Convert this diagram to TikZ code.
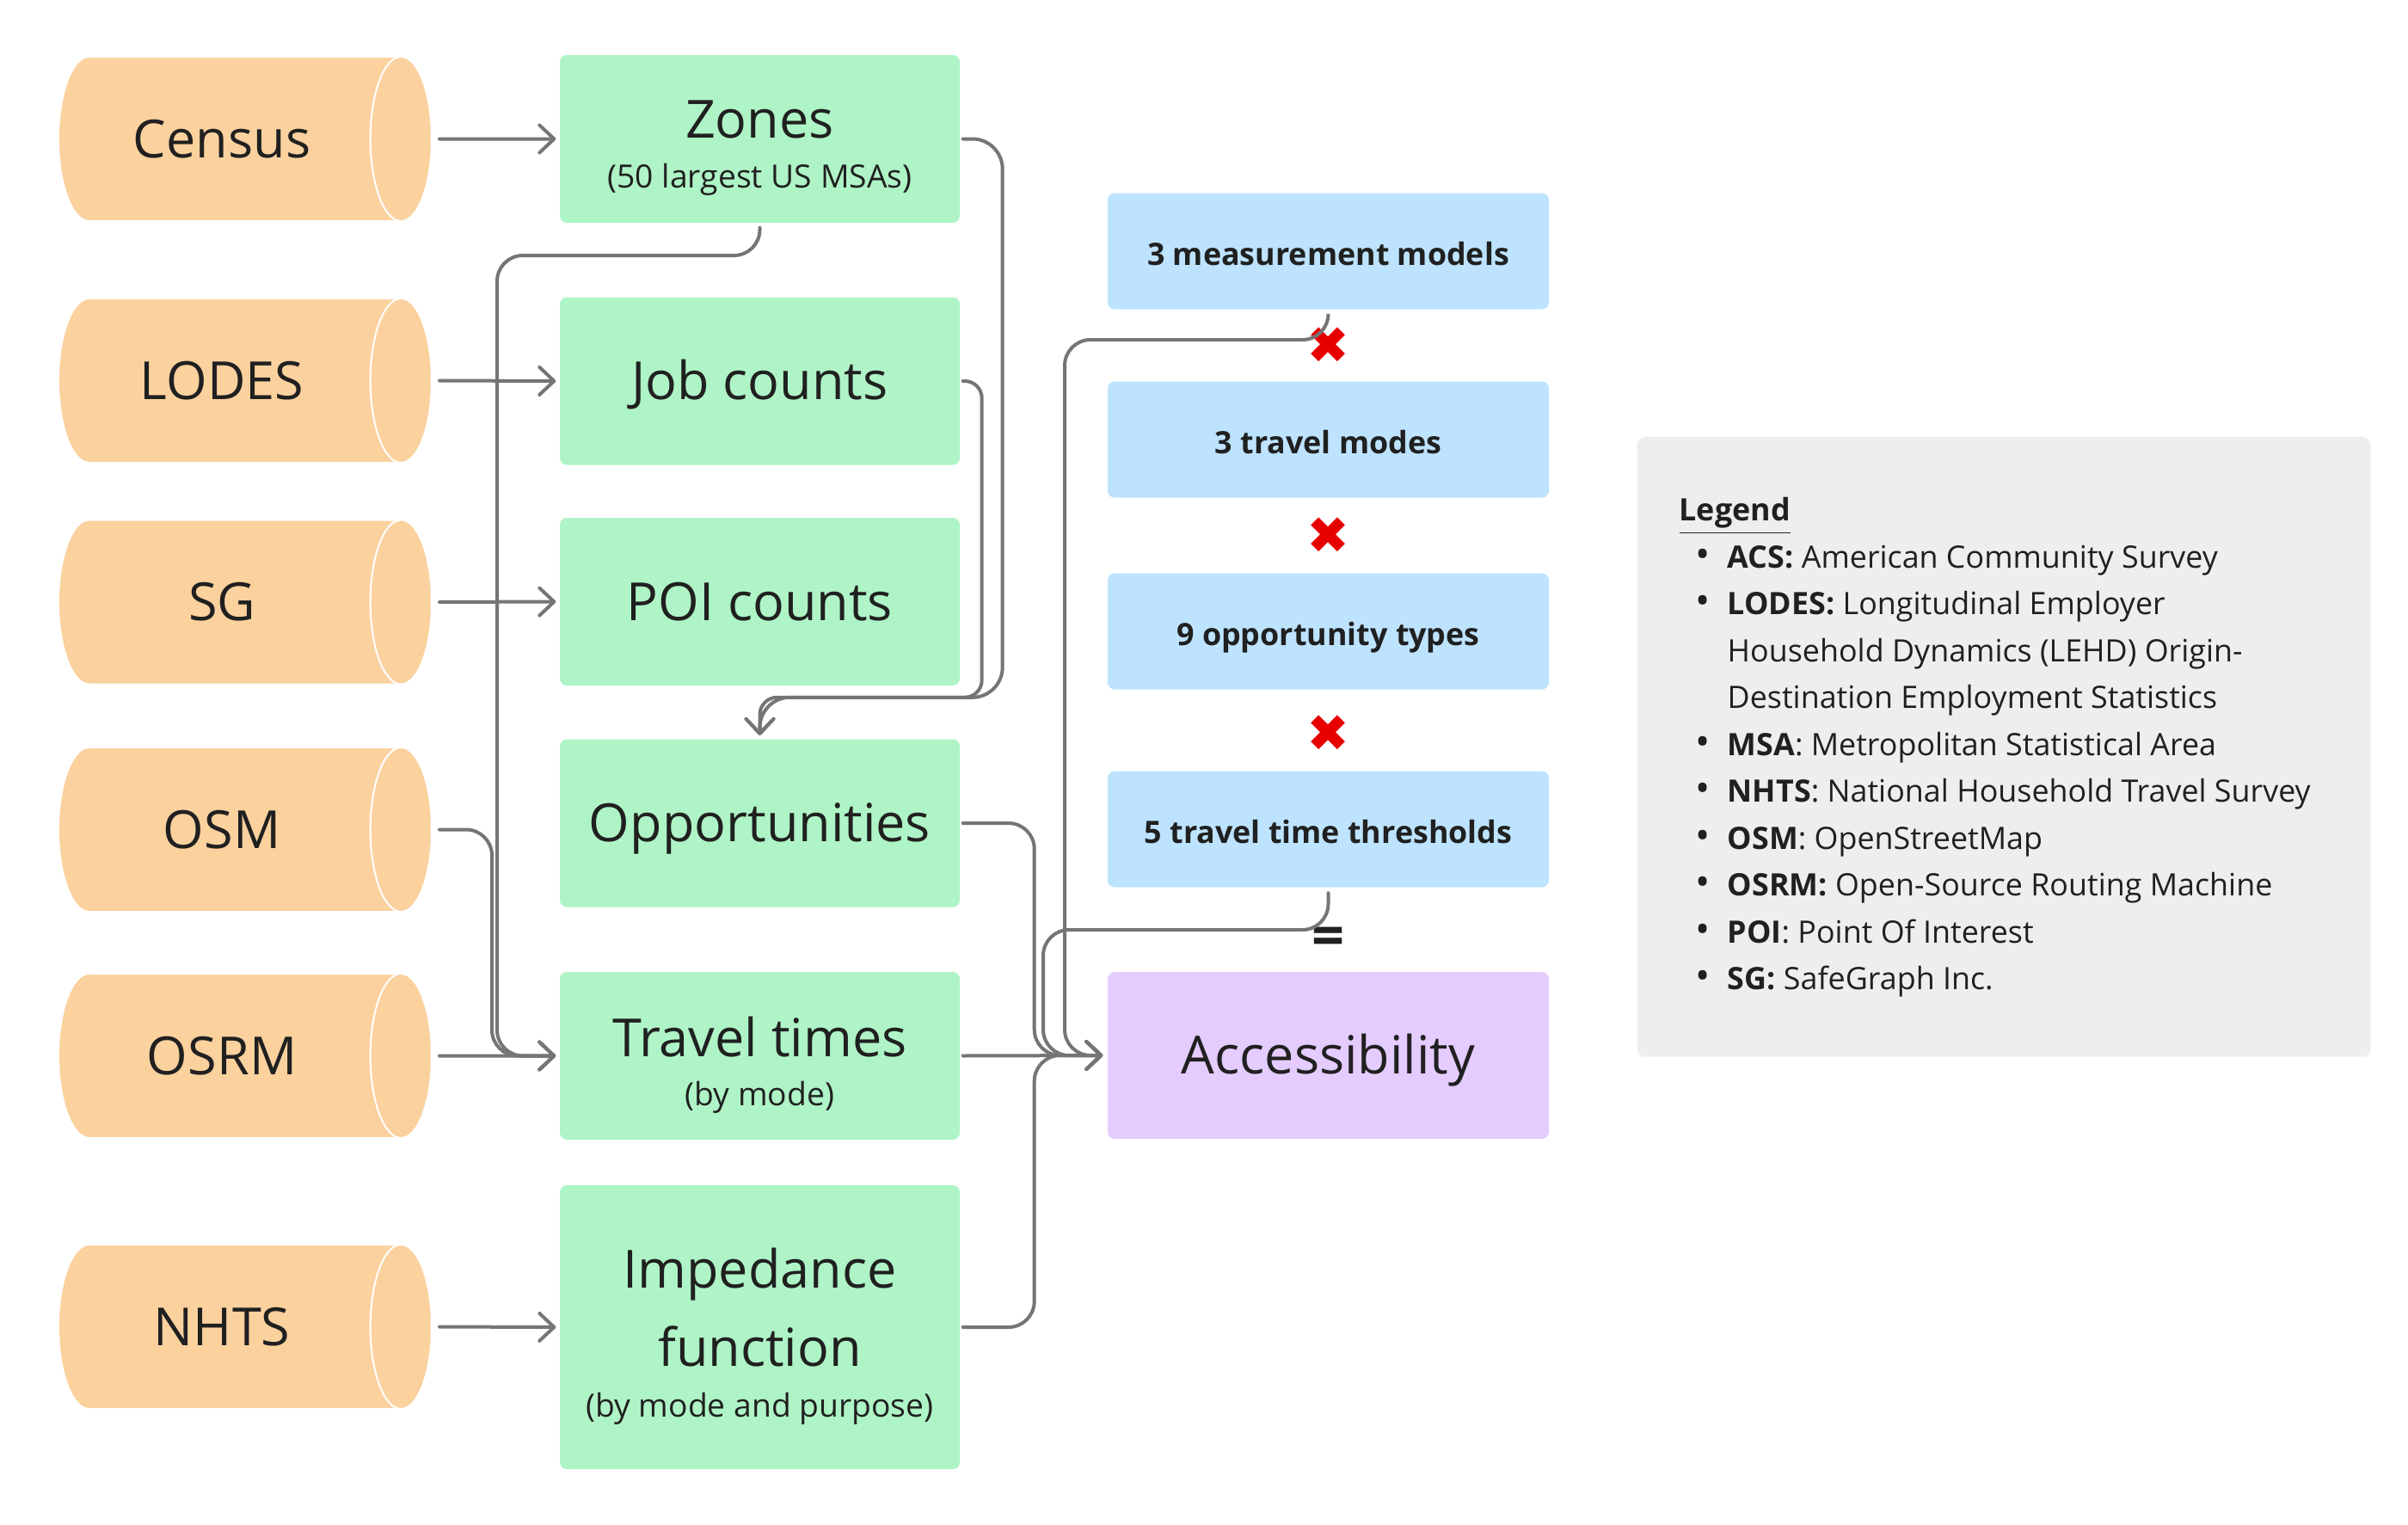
\documentclass[tikz,border=0pt]{standalone}
\usepackage{fontspec}
\setmainfont{Open Sans}
\newfontfamily\symfont{DejaVu Sans}
\usetikzlibrary{shapes.geometric, positioning, arrows.meta, calc}

\definecolor{srcorange}{RGB}{251,209,158}
\definecolor{datagreen}{RGB}{175,244,198}
\definecolor{parblue}{RGB}{189,227,255}
\definecolor{accpurple}{RGB}{228,204,255}
\definecolor{legendgray}{RGB}{238,238,238}
\definecolor{linegray}{RGB}{117,117,117}
\definecolor{textdark}{RGB}{32,32,32}
\definecolor{crossred}{RGB}{232,0,0}

\newcommand{\bigfont}{\fontsize{17.4}{25.9}\selectfont}
\newcommand{\subfont}{\fontsize{10.6}{15}\selectfont}
\newcommand{\parfont}{\fontsize{10.2}{14}\selectfont}
\newcommand{\legfont}{\fontsize{10.2}{15.5}\selectfont}
\newcommand{\legitem}{\hspace*{0.185cm}\makebox[0.375cm][l]{\fontsize{13}{13}\selectfont\textbullet}}

\tikzset{
        source/.style={cylinder, shape aspect=0.73, draw=white, line width=0.02cm,
                fill=srcorange, minimum height=4.34cm, minimum width=1.91cm,
                text=textdark, font=\bigfont, anchor=west,
                text height=16.8pt, text depth=4.35pt}, % data sources
        data/.style={rectangle, fill=datagreen, rounded corners=0.08cm, inner sep=0pt,
                minimum width=4.65cm, minimum height=1.95cm, align=center,
                text=textdark, font=\bigfont}, % intermediate data
        oneline/.style={text height=16.8pt, text depth=4.35pt},
        param/.style={rectangle, fill=parblue, rounded corners=0.08cm,
                minimum width=5.13cm, minimum height=1.35cm,
                text=textdark, font=\bfseries\parfont,
                text height=11.85pt, text depth=2.55pt}, % scenario dimensions
        result/.style={rectangle, fill=accpurple, rounded corners=0.08cm,
                minimum width=5.13cm, minimum height=1.94cm,
                text=textdark, font=\bigfont, oneline},
        crossmark/.style={text=crossred, font=\symfont\fontsize{17}{17}\selectfont, inner sep=0pt},
        eqmark/.style={text=textdark, font=\bfseries\fontsize{19}{19}\selectfont, inner sep=0pt},
        conn/.style={draw=linegray, line width=0.04cm, line cap=round, rounded corners=0.3cm,
                -{Straight Barb[round, length=0.17cm, width=0.32cm]},
                shorten <=0.03cm, shorten >=0.04cm}, % connectors
        srcconn/.style={conn, shorten <=0.08cm},
}

\begin{document}
\begin{tikzpicture}
        \useasboundingbox (0,0) rectangle (28,-17.72);

        % data sources
        \node[source] (Census) at (0.67,-1.615) {Census};
        \node[source] (LODES) at (0.67,-4.425) {LODES};
        \node[source] (SG) at (0.67,-7.00) {SG};
        \node[source] (OSM) at (0.67,-9.645) {OSM};
        \node[source] (OSRM) at (0.67,-12.275) {OSRM};
        \node[source] (NHTS) at (0.67,-15.425) {NHTS};

        % processed data
        \node[data] (Zones) at (8.835,-1.615) {\rule{0pt}{18.6pt}Zones\\[-9.5pt]{\subfont (50 largest US MSAs)}};
        \node[data, oneline] (Jobs) at (8.835,-4.43) {Job counts};
        \node[data, oneline] (POI) at (8.835,-6.995) {POI counts};
        \node[data, oneline] (Opp) at (8.835,-9.57) {Opportunities};
        \node[data] (Travel) at (8.835,-12.275) {\rule{0pt}{19.4pt}Travel times\\[-9.5pt]{\subfont (by mode)}};
        \node[data, minimum height=3.30cm] (Imped) at (8.835,-15.43) {\rule{0pt}{19.4pt}Impedance\\function\\[-9.1pt]{\subfont (by mode and purpose)}};

        % scenarios
        \node[param] (Models) at (15.445,-2.92) {3 measurement models};
        \node[param] (Modes) at (15.445,-5.11) {3 travel modes};
        \node[param] (Types) at (15.445,-7.34) {9 opportunity types};
        \node[param] (Thresh) at (15.445,-9.64) {5 travel time thresholds};
        \node[result] (Acc) at (15.445,-12.27) {Accessibility};

        \node[crossmark] (x1) at ($(Models.south)!0.5!(Modes.north)$) {✖};
        \node[crossmark] (x2) at ($(Modes.south)!0.5!(Types.north)$) {✖};
        \node[crossmark] (x3) at ($(Types.south)!0.5!(Thresh.north)+(0,-0.04)$) {✖};
        \node[eqmark] (eq) at ($(Thresh.south)!0.5!(Acc.north)+(0,-0.14)$) {=};

        \coordinate (zbend) at (5.78,-2.97);
        \coordinate (mbend) at (12.38,-3.95);
        \coordinate (tbend) at (12.13,-10.81);

        % sources to data
        \draw[srcconn] (Census.east) -- (Zones.west);
        \draw[srcconn] (LODES.east) -- (Jobs.west);
        \draw[srcconn] (SG.east) -- (POI.west);
        \draw[srcconn] (OSRM.east) -- (Travel.west);
        \draw[srcconn] (NHTS.east) -- (Imped.west);
        \draw[srcconn] (OSM.east) -- ++(0.69,0) |- (Travel.west);
        \draw[conn, shorten <=0.05cm] (Zones.south) |- (zbend) |- (Travel.west);

        % data to opportunities
        \draw[conn, rounded corners=0.35cm] (Zones.east) -- ++(0.49,0) |- ([yshift=4.8mm]Opp.north) -- (Opp.north);
        \draw[conn, rounded corners=0.2cm] (Jobs.east) -- ++(0.25,0) |- ([yshift=4.8mm]Opp.north) -- (Opp.north);

        % everything to accessibility
        \draw[conn, shorten >=0.05cm] (Opp.east) -- ++(0.86,0) |- (Acc.west);
        \draw[conn, shorten >=0.05cm] (Travel.east) -- (Acc.west);
        \draw[conn, shorten >=0.05cm] (Imped.east) -- ++(0.86,0) |- (Acc.west);
        \draw[conn, shorten <=0.05cm, shorten >=0.05cm] (Models.south) |- (mbend) |- (Acc.west);
        \draw[conn, shorten <=0.06cm, shorten >=0.05cm] (Thresh.south) |- (tbend) |- (Acc.west);

        % legend
        \node[fill=legendgray, rounded corners=0.1cm, minimum width=8.53cm, minimum height=7.21cm,
                anchor=north west, inner sep=0pt] (legend) at (19.03,-5.07) {};
        \node[anchor=north west, align=left, inner sep=0pt, text=textdark, font=\legfont]
                (legendbody) at ([xshift=0.49cm,yshift=-0.71cm]legend.north west) {%
                \underline{\textbf{Legend}}\\
                \legitem\textbf{ACS:} American Community Survey\\
                \legitem\textbf{LODES:} Longitudinal Employer\\
                \hspace*{0.56cm}Household Dynamics (LEHD) Origin-\\
                \hspace*{0.56cm}Destination Employment Statistics\\
                \legitem\textbf{MSA}: Metropolitan Statistical Area\\
                \legitem\textbf{NHTS}: National Household Travel Survey\\
                \legitem\textbf{OSM}: OpenStreetMap\\
                \legitem\textbf{OSRM:} Open-Source Routing Machine\\
                \legitem\textbf{POI}: Point Of Interest\\
                \legitem\textbf{SG:} SafeGraph Inc.};
\end{tikzpicture}
\end{document}
